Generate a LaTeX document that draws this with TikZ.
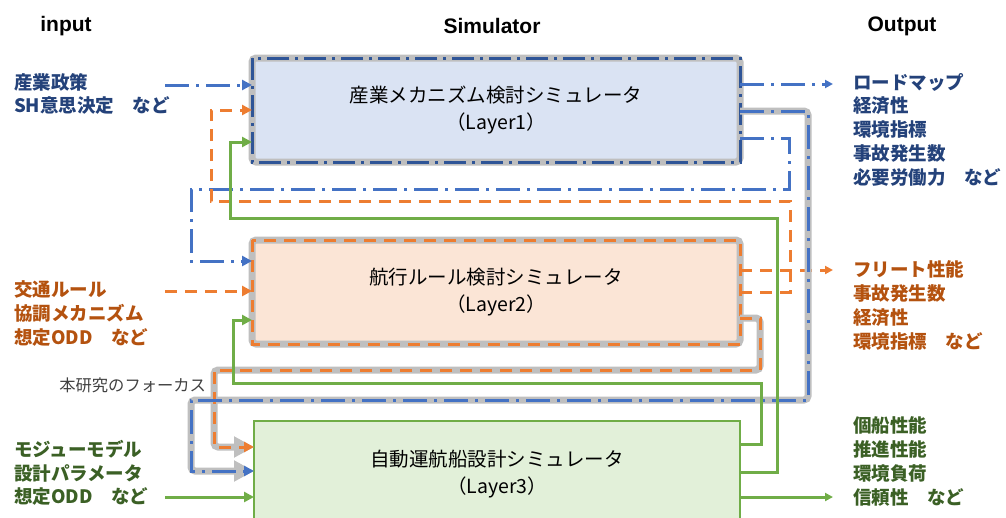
\documentclass[tikz,border=0pt]{standalone}
\usepackage{fontspec}
\setmainfont{Liberation Sans}
\newfontfamily\jp{Noto Sans CJK JP}
\usetikzlibrary{arrows.meta}
\definecolor{cblue}{HTML}{4472C4}
\definecolor{cbluedark}{HTML}{2F5597}
\definecolor{corange}{HTML}{ED7D31}
\definecolor{cgreen}{HTML}{70AD47}
\definecolor{cgray}{HTML}{BFBFBF}
\definecolor{fblue}{HTML}{DAE3F3}
\definecolor{forange}{HTML}{FBE5D6}
\definecolor{fgreen}{HTML}{E2F0D9}
\definecolor{tblue}{HTML}{24427A}
\definecolor{torange}{HTML}{B4520F}
\definecolor{tgreen}{HTML}{3B6025}
\definecolor{tgray}{HTML}{404040}
\begin{document}
\begin{tikzpicture}[x=1pt,y=-1pt,
  every node/.style={inner sep=0pt,outer sep=0pt},
  layerbox/.style={minimum width=488pt,minimum height=104pt,align=center,
    font=\jp\fontsize{19.5}{27}\selectfont},
  grayrim/.style={draw=cgray,line width=7pt,rounded corners=4pt},
  rimblue/.style={cbluedark,line width=3pt,dash pattern=on 22pt off 6pt on 3pt off 6pt},
  rimorange/.style={corange,line width=3pt,dash pattern=on 12pt off 8pt},
  lnblue/.style={cblue,line width=3pt,dash pattern=on 24pt off 7pt on 3pt off 7pt},
  lnorange/.style={corange,line width=3pt,dash pattern=on 12pt off 8pt},
  lngreen/.style={cgreen,line width=3pt},
  tipin/.style={-{Triangle[length=10pt,width=10pt]}},
  tipout/.style={-{Triangle[length=8pt,width=8pt]}},
  focus/.style={cgray,line width=7pt,rounded corners=4pt,-{Triangle[length=20pt,width=20pt]}},
  title/.style={font=\bfseries\fontsize{21}{24}\selectfont},
  side/.style={anchor=west,align=left,font=\jp\bfseries\fontsize{18.5}{23.75}\selectfont},
]
\useasboundingbox (0,0) rectangle (1006,517);
\clip (0,0) rectangle (1006,517);

% titles
\node[title] (tin) at (66,26) {input};
\node[title] (tsim) at (492,26) {Simulator};
\node[title] (tout) at (902,26) {Output};

% boxes
\node[layerbox,fill=fblue,grayrim] (L1) at (496,110) {産業メカニズム検討シミュレータ\\（Layer1）};
\draw[rimblue] (L1.north west) rectangle (L1.south east);
\node[layerbox,fill=forange,grayrim] (L2) at (496,292) {航行ルール検討シミュレータ\\（Layer2）};
\draw[rimorange] (L2.north west) rectangle (L2.south east);
\node[layerbox,fill=fgreen,draw=cgreen,line width=2.5pt,minimum width=486pt,minimum height=106pt] (L3) at (497,474) {自動運航船設計シミュレータ\\（Layer3）};

% input texts
\node[side,text=tblue] (inB) at (14,94) {産業政策\\SH意思決定　など};
\node[side,text=torange] (inO) at (14,313.5) {交通ルール\\協調メカニズム\\想定ODD　など};
\node[side,text=tgreen] (inG) at (14,473) {モジューモデル\\設計パラメータ\\想定ODD　など};

% output texts
\node[side,text=tblue] (outB) at (853,129.5) {ロードマップ\\経済性\\環境指標\\事故発生数\\必要労働力　など};
\node[side,text=torange] (outO) at (853,305.5) {フリート性能\\事故発生数\\経済性\\環境指標　など};
\node[side,text=tgreen] (outG) at (853,461.5) {個船性能\\推進性能\\環境負荷\\信頼性　など};

% focus label
\node[anchor=east,text=tgray,font=\jp\fontsize{16.3}{18}\selectfont] (flabel) at (206,385) {本研究のフォーカス};

% input arrows
\coordinate (aB) at (165,85);
\coordinate (aO) at (165,291);
\coordinate (aG) at (165,497);
\draw[lnblue,tipin] (aB) -- (aB -| L1.west);
\draw[lnorange,tipin] (aO) -- (aO -| L2.west);
\draw[lngreen,tipin] (aG) -- (aG -| L3.west);

% output arrows
\coordinate (oB) at (833,84);
\coordinate (oO) at (833,270);
\coordinate (oG) at (833,497);
\draw[lnblue,tipout] (oB -| L1.east) -- (oB);
\draw[lnorange,tipout] (oO -| L2.east) -- (oO);
\draw[lngreen,tipout] (oG -| L3.east) -- (oG);

% focus paths (gray underlay)
\draw[focus] (L2.east |- 0,318) -| (760,370) -| (214,447) -- (L3.west |- 0,447);
\draw[focus] (L1.east |- 0,111) -| (808,400) -| (191,471) -- (L3.west |- 0,471);

% feedback connectors
\draw[lnblue,tipin] (L1.east |- 0,138) -| (789,189) -| (191,261) -- (L2.west |- 0,261);
\draw[lnorange,tipin] (L2.east |- 0,292) -| (790,201) -| (211,110) -- (L1.west |- 0,110);

% focus colored lines
\draw[lnorange,tipin] (L2.east |- 0,318) -| (760,370) -| (214,447) -- (L3.west |- 0,447);
\draw[lnblue,tipin] (L1.east |- 0,111) -| (808,400) -| (191,471) -- (L3.west |- 0,471);

% green feedback
\draw[lngreen,tipin] (L3.east |- 0,472) -| (777,218) -| (230,142) -- (L1.west |- 0,142);
\draw[lngreen,tipin] (L3.east |- 0,444) -| (761,383) -| (233,320) -- (L2.west |- 0,320);
\end{tikzpicture}
\end{document}
